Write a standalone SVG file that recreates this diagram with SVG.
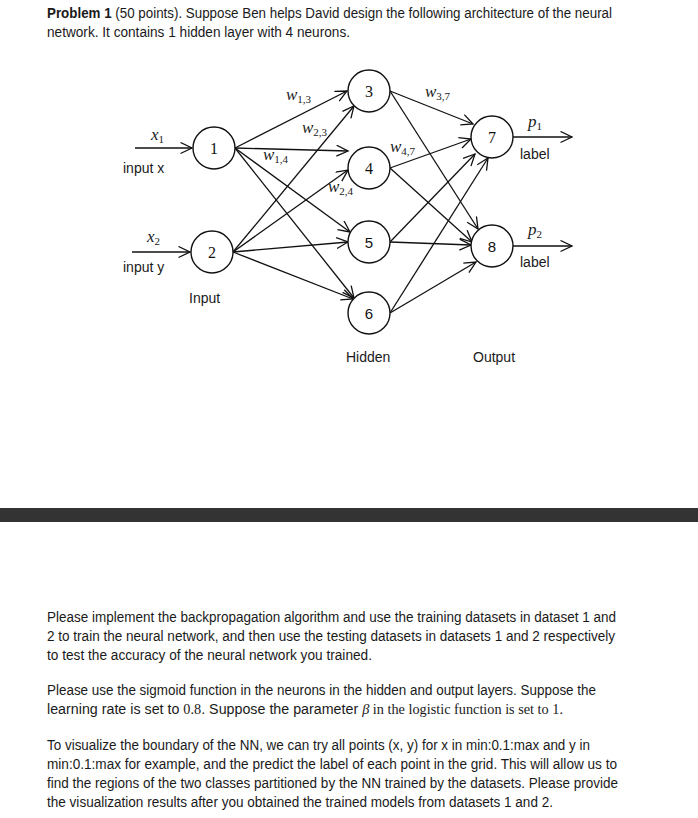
<svg xmlns="http://www.w3.org/2000/svg" width="698" height="818" viewBox="0 0 698 818">
<style>
.t{font-family:"Liberation Sans",Arial,sans-serif;font-size:14px;fill:#1a1a1a}
.m{font-family:"Liberation Serif","DejaVu Serif",serif;font-style:italic;font-size:17px;fill:#1a1a1a}
.s{font-size:11px;font-style:normal}
.n{fill:#fff;stroke:#111;stroke-width:1.4}
.ns{font-family:"Liberation Serif",serif;font-size:16px;fill:#111;text-anchor:middle}
.nn{font-family:"Liberation Sans",sans-serif;font-size:15px;fill:#111;text-anchor:middle}
.e{stroke:#111;stroke-width:1.3;fill:none;marker-end:url(#a)}
</style>
<defs>
<marker id="a" markerUnits="userSpaceOnUse" markerWidth="14" markerHeight="14" refX="12" refY="6" orient="auto">
<path d="M0.5,0.5 L12,6 L0.5,11.5" fill="none" stroke="#111" stroke-width="1.3"/>
</marker>
</defs>
<rect width="698" height="818" fill="#fff"/>
<text class="t" x="47" y="18" textLength="565" lengthAdjust="spacingAndGlyphs"><tspan font-weight="bold">Problem 1</tspan> (50 points). Suppose Ben helps David design the following architecture of the neural</text>
<text class="t" x="47" y="37" textLength="303" lengthAdjust="spacingAndGlyphs">network. It contains 1 hidden layer with 4 neurons.</text>

<g id="connectors">
<line class="e" x1="135" y1="148" x2="192" y2="148"/>
<line class="e" x1="132" y1="252" x2="190" y2="252"/>
<line class="e" x1="235" y1="148" x2="347" y2="91"/>
<line class="e" x1="235" y1="148" x2="348" y2="151"/>
<line class="e" x1="235" y1="148" x2="350" y2="232"/>
<line class="e" x1="235" y1="148" x2="354" y2="298"/>
<line class="e" x1="233" y1="252" x2="354" y2="106"/>
<line class="e" x1="233" y1="252" x2="348" y2="170"/>
<line class="e" x1="233" y1="252" x2="348" y2="242"/>
<line class="e" x1="233" y1="252" x2="353" y2="299"/>
<line class="e" x1="390" y1="91" x2="473" y2="124"/>
<line class="e" x1="390" y1="91" x2="478" y2="229"/>
<line class="e" x1="390" y1="168" x2="471" y2="139"/>
<line class="e" x1="390" y1="168" x2="472" y2="242"/>
<line class="e" x1="390" y1="242" x2="475" y2="154"/>
<line class="e" x1="390" y1="242" x2="471" y2="245"/>
<line class="e" x1="390" y1="313" x2="488" y2="158"/>
<line class="e" x1="390" y1="313" x2="476" y2="262"/>
<line class="e" x1="513" y1="137" x2="572" y2="137"/>
<line class="e" x1="513" y1="246" x2="572" y2="246"/>
</g>

<g id="node1"><circle class="n" cx="214" cy="148" r="21"/><text class="ns" x="214" y="154">1</text></g>
<g id="node2"><circle class="n" cx="212" cy="252" r="21"/><text class="ns" x="212" y="258">2</text></g>
<g id="node3"><circle class="n" cx="369" cy="91" r="21"/><text class="ns" x="369" y="97">3</text></g>
<g id="node4"><circle class="n" cx="369" cy="168" r="21"/><text class="ns" x="369" y="174">4</text></g>
<g id="node5"><circle class="n" cx="369" cy="242" r="21"/><text class="nn" x="369" y="248">5</text></g>
<g id="node6"><circle class="n" cx="369" cy="313" r="21"/><text class="nn" x="369" y="319">6</text></g>
<g id="node7"><circle class="n" cx="492" cy="137" r="21"/><text class="ns" x="492" y="143">7</text></g>
<g id="node8"><circle class="n" cx="492" cy="246" r="21"/><text class="nn" x="492" y="252">8</text></g>

<g id="labels">
<text class="m" x="151" y="140">x<tspan class="s" dy="3">1</tspan></text>
<text class="m" x="147" y="242">x<tspan class="s" dy="3">2</tspan></text>
<text class="m" x="528" y="127">p<tspan class="s" dy="3">1</tspan></text>
<text class="m" x="528" y="235">p<tspan class="s" dy="3">2</tspan></text>
<text class="m" x="286" y="100">w<tspan class="s" dy="3">1,3</tspan></text>
<text class="m" x="302" y="133">w<tspan class="s" dy="3">2,3</tspan></text>
<text class="m" x="263" y="160">w<tspan class="s" dy="3">1,4</tspan></text>
<text class="m" x="425" y="97">w<tspan class="s" dy="3">3,7</tspan></text>
<text class="m" x="390" y="152">w<tspan class="s" dy="3">4,7</tspan></text>
<text class="m" x="328" y="192">w<tspan class="s" dy="3">2,4</tspan></text>
<text class="t" x="123" y="173">input x</text>
<text class="t" x="123" y="272">input y</text>
<text class="t" x="189" y="303">Input</text>
<text class="t" x="346" y="362">Hidden</text>
<text class="t" x="473" y="362">Output</text>
<text class="t" x="520" y="159">label</text>
<text class="t" x="520" y="267">label</text>
</g>

<rect x="0" y="508" width="698" height="14" fill="#333"/>

<text class="t" x="47" y="622" textLength="569" lengthAdjust="spacingAndGlyphs">Please implement the backpropagation algorithm and use the training datasets in dataset 1 and</text>
<text class="t" x="47" y="641" textLength="568" lengthAdjust="spacingAndGlyphs">2 to train the neural network, and then use the testing datasets in datasets 1 and 2 respectively</text>
<text class="t" x="47" y="660" textLength="325" lengthAdjust="spacingAndGlyphs">to test the accuracy of the neural network you trained.</text>

<text class="t" x="47" y="695" textLength="549" lengthAdjust="spacingAndGlyphs">Please use the sigmoid function in the neurons in the hidden and output layers. Suppose the</text>
<text class="t" x="47" y="714" textLength="516" lengthAdjust="spacingAndGlyphs">learning rate is set to <tspan font-family="Liberation Serif,serif">0.8</tspan>. Suppose the parameter <tspan font-family="Liberation Serif,serif"><tspan font-style="italic">β</tspan> in the logistic function is set to 1.</tspan></text>

<text class="t" x="47" y="750" textLength="543" lengthAdjust="spacingAndGlyphs">To visualize the boundary of the NN, we can try all points (x, y) for x in min:0.1:max and y in</text>
<text class="t" x="47" y="769" textLength="570" lengthAdjust="spacingAndGlyphs">min:0.1:max for example, and the predict the label of each point in the grid. This will allow us to</text>
<text class="t" x="47" y="788" textLength="571" lengthAdjust="spacingAndGlyphs">find the regions of the two classes partitioned by the NN trained by the datasets. Please provide</text>
<text class="t" x="47" y="807" textLength="506" lengthAdjust="spacingAndGlyphs">the visualization results after you obtained the trained models from datasets 1 and 2.</text>
</svg>
